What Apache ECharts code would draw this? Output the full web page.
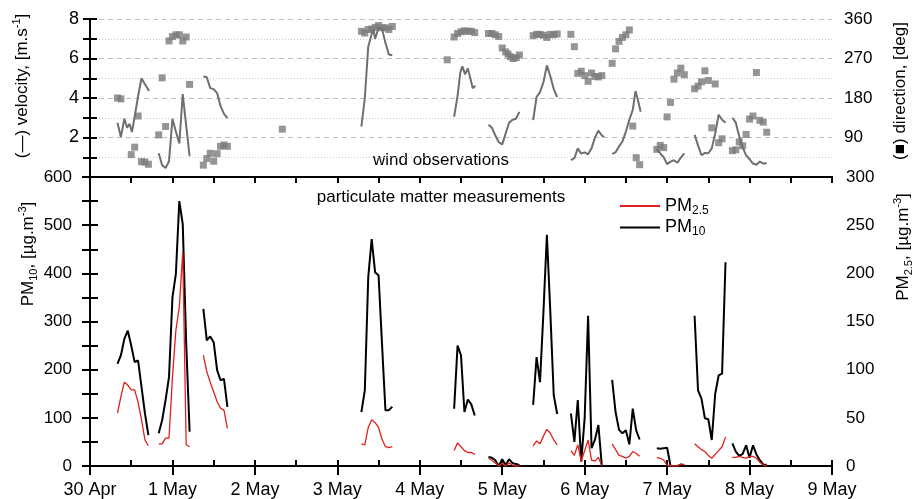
<!DOCTYPE html>
<html>
<head>
<meta charset="utf-8">
<script src="https://cdn.jsdelivr.net/npm/echarts@6/dist/echarts.min.js"></script>
<style>
  html, body { margin: 0; padding: 0; background: #fff; }
  #chart { width: 914px; height: 499px; }
</style>
</head>
<body>
<div id="chart"></div>
<script>
// x axis runs in hours from 30 Apr 00:00
const dayLabels = ['30 Apr', '1 May', '2 May', '3 May', '4 May', '5 May', '6 May', '7 May', '8 May', '9 May'];

// wind speed, one array per measuring run
const windHours = [
  [8, 9, 10, 10.8, 11.5, 12.2, 13, 14, 15, 16, 17.2],
  [20, 21, 22, 23, 24, 25, 26, 27, 28, 29],
  [33, 34, 35, 36, 37, 38, 39, 40],
  [79, 80, 81, 82, 82.5, 83, 84, 85, 86, 87, 88],
  [106, 107, 107.8, 108.4, 109.2, 110, 111, 111.4, 112.2],
  [116, 117, 118, 119, 120, 121, 122, 123, 124, 125],
  [129, 130, 131, 132, 133, 134, 135, 136],
  [140, 141, 142, 143, 144, 145, 146, 147, 148, 149, 149.7],
  [152, 153, 154, 155, 156, 157, 158, 158.8, 159.5, 160.3],
  [165, 166, 167, 168, 169, 170, 171, 172, 173],
  [176, 177, 178, 179, 180, 181, 182, 183, 184, 185],
  [187, 188, 189, 190, 191, 192, 193, 194, 195, 196, 197]
];
const windSpeed = [
  [2.75, 2.03, 2.95, 2.5, 2.7, 2.28, 3.05, 4.1, 5.0, 4.7, 4.36],
  [1.2, 0.6, 0.45, 0.8, 2.95, 2.3, 1.7, 4.2, 2.6, 1.05],
  [5.1, 5.05, 4.5, 4.45, 4.25, 3.6, 3.2, 2.98],
  [2.55, 4.0, 6.6, 7.25, 7.45, 7.0, 7.55, 7.5, 6.8, 6.2, 6.16],
  [3.05, 4.1, 5.3, 5.6, 5.2, 5.5, 4.8, 4.5, 4.62],
  [2.65, 2.5, 2.1, 1.76, 1.65, 2.2, 2.75, 2.9, 2.95, 3.3],
  [2.88, 4.05, 4.3, 4.8, 5.65, 5.1, 4.45, 4.05],
  [0.85, 0.95, 1.45, 1.18, 1.25, 1.15, 1.45, 2.0, 2.35, 2.1, 2.03],
  [1.17, 1.25, 1.55, 1.8, 2.3, 2.9, 3.4, 4.35, 3.9, 3.3],
  [1.4, 1.2, 1.0, 0.65, 0.78, 0.85, 0.72, 0.98, 1.2],
  [2.14, 1.6, 1.1, 1.22, 1.2, 1.45, 2.2, 3.15, 2.9, 2.75],
  [3.0, 2.75, 2.05, 1.5, 1.1, 0.9, 0.68, 0.62, 0.78, 0.68, 0.7]
];

// wind direction, degrees
const dirHours = [
  8, 9, 12, 13, 14, 15, 16, 17, 20, 21, 22, 23, 24, 25, 26, 27, 28, 29,
  33, 34, 35, 36, 37, 38, 39, 40, 56,
  79, 80, 81, 82, 83, 84, 85, 86, 87, 88,
  104, 106, 107, 108, 109, 110, 111, 112,
  116, 117, 118, 119, 120, 121, 121.7, 122.4, 123.2, 124.1, 125,
  129, 130, 131, 132, 133, 134, 135, 136,
  140, 141, 142, 143, 144, 145, 146, 147, 148, 149,
  152, 153, 154, 155, 156, 157, 158, 159, 160,
  165, 166, 167, 168, 169, 170, 171, 172, 173,
  176, 177, 178, 179, 180, 181, 182, 183, 184,
  187, 188, 189, 190, 191, 192, 193, 194, 195, 196, 197
];
const dirDeg = [
  180, 178, 51, 68, 139, 35, 34, 29, 96, 226, 115, 310, 320, 324, 324, 310, 319, 211,
  27, 42, 54, 36, 53, 70, 73, 70, 109,
  332, 328, 336, 337, 341, 345, 340, 340, 336, 343,
  267, 319, 327, 331, 333, 332, 332, 329,
  327, 327, 324, 320, 294, 285, 280, 274, 270, 272, 278,
  322, 325, 325, 323, 318, 325, 324, 326,
  325, 297, 236, 241, 231, 218, 237, 229, 228, 231,
  259, 292, 309, 318, 324, 335, 116, 44, 28,
  63, 72, 67, 137, 170, 223, 237, 248, 233,
  201, 207, 217, 242, 220, 112, 212, 78, 87,
  60, 62, 80, 71, 97, 132, 139, 238, 129, 125, 102
];

// particulate matter, hourly runs starting at these hours
const pmStart = [8, 20, 33, 79, 106, 116, 129, 140, 152, 165, 176, 187];
const pm10 = [
  [212, 230, 264, 281, 250, 216, 219, 164, 109, 64],
  [68, 95, 137, 185, 350, 399, 550, 502, 255, 71],
  [326, 261, 269, 257, 199, 178, 181, 123],
  [112, 157, 392, 471, 402, 396, 254, 116, 116, 123],
  [119, 250, 230, 112, 138, 128, 105],
  [19, 17, 12, 0, 14, 2, 14, 6, 4, 2],
  [127, 226, 174, 320, 480, 320, 147, 108],
  [109, 50, 137, 9, 100, 312, 37, 55, 85, 0],
  [179, 112, 75, 68, 74, 45, 119, 74, 55],
  [37, 36, 37, 38, 0, 0, 0, 3, 2],
  [312, 157, 140, 99, 97, 54, 150, 188, 192, 423],
  [47, 30, 21, 25, 43, 17, 43, 24, 12, 3, 2]
];
const pm25 = [
  [55, 72, 87, 84, 79, 79, 66, 48, 27, 21],
  [23, 23, 29, 29, 92, 141, 165, 222, 22, 20],
  [115, 98, 87, 77, 67, 60, 58, 39],
  [23, 22, 40, 48, 45, 40, 28, 20, 19, 20],
  [16, 24, 20, 16, 14, 14, 12],
  [8, 6, 3, 0, 3, 0, 3, 1, 0, 0],
  [21, 26, 23, 31, 38, 34, 27, 22],
  [16, 11, 22, 5, 16, 27, 6, 5, 9, 0],
  [23, 17, 11, 10, 8, 10, 15, 13, 10],
  [9, 8, 6, 1, 0, 0, 0, 2, 1],
  [23, 20, 17, 15, 11, 8, 12, 16, 20, 30],
  [9, 9, 10, 9, 8, 10, 10, 8, 4, 1, 0]
];

const FONT = 'Liberation Sans, Arial, sans-serif';

// join runs into one list, with an empty point between runs so the line breaks
function joinRuns(hoursList, valuesList) {
  const out = [];
  hoursList.forEach((hours, k) => {
    if (k > 0) out.push([hours[0] - 0.5, '-']);
    hours.forEach((h, i) => out.push([h, valuesList[k][i]]));
  });
  return out;
}
const pmHours = pmStart.map((s, k) => pm10[k].map((_, i) => s + i));

const tickLabel = { color: '#000', fontSize: 17, fontFamily: FONT };
const blackLine = { lineStyle: { color: '#000', width: 2 } };

function xBase(grid) {
  return { type: 'value', gridIndex: grid, min: 0, max: 216, interval: 24, splitLine: { show: false } };
}

const chart = echarts.init(document.getElementById('chart'));

const richName = {
  a: { fontSize: 17, fontFamily: FONT, color: '#000', lineHeight: 22, verticalAlign: 'middle' },
  g: { fontSize: 17, fontFamily: FONT, color: '#777', lineHeight: 22, verticalAlign: 'middle' },
  sub: { fontSize: 11, fontFamily: FONT, color: '#000', lineHeight: 11, verticalAlign: 'bottom' },
  sup: { fontSize: 11, fontFamily: FONT, color: '#000', lineHeight: 11, verticalAlign: 'top' }
};
function vText(x, y, text) {
  return {
    type: 'text', x: x, y: y, rotation: Math.PI / 2,
    style: { text: text, rich: richName, align: 'center', verticalAlign: 'middle' }
  };
}

const option = {
  animation: false,
  backgroundColor: '#fff',
  grid: [
    { left: 90, right: 82, top: 19, height: 158 },
    { left: 90, right: 82, top: 177, height: 289 }
  ],
  legend: {
    data: ['PM2.5', 'PM10'],
    orient: 'vertical',
    left: 615,
    top: 192,
    icon: 'rect',
    itemWidth: 40,
    itemHeight: 2,
    itemGap: 2,
    formatter: name => name === 'PM2.5' ? '{a|PM}{s|2.5}' : '{a|PM}{s|10}',
    textStyle: {
      rich: {
        a: { fontSize: 18, fontFamily: FONT, color: '#000', lineHeight: 21, verticalAlign: 'middle' },
        s: { fontSize: 12, fontFamily: FONT, color: '#000', lineHeight: 12, verticalAlign: 'bottom' }
      }
    }
  },
  xAxis: [
    // top panel, upper edge
    Object.assign(xBase(0), {
      position: 'top', interval: 12, axisLine: blackLine,
      axisTick: { inside: true, length: 6, lineStyle: { color: '#000', width: 2 } },
      axisLabel: { show: false }
    }),
    // top panel, lower edge
    Object.assign(xBase(0), {
      position: 'bottom', axisLine: blackLine, axisTick: { show: false }, axisLabel: { show: false }
    }),
    // bottom panel, date axis
    Object.assign(xBase(1), {
      position: 'bottom', axisLine: blackLine,
      axisTick: { inside: false, length: 9, lineStyle: { color: '#000', width: 2 } },
      axisLabel: Object.assign({ margin: 15, formatter: v => dayLabels[Math.round(v / 24)] }, tickLabel, { fontSize: 18 })
    }),
    // bottom panel, half-day ticks pointing in
    Object.assign(xBase(1), {
      position: 'bottom', interval: 12, axisLine: { show: false },
      axisTick: { inside: true, length: 6, lineStyle: { color: '#000', width: 2 } },
      axisLabel: { show: false }
    }),
    // bottom panel, upper edge
    Object.assign(xBase(1), {
      position: 'top', interval: 12, axisLine: blackLine,
      axisTick: { inside: true, length: 6, lineStyle: { color: '#000', width: 2 } },
      axisLabel: { show: false }
    })
  ],
  yAxis: [
    {
      type: 'value', gridIndex: 0, position: 'left', min: 0, max: 8, interval: 2,
      axisLine: Object.assign({ show: true }, blackLine),
      axisTick: { show: true, length: 7, lineStyle: { color: '#000', width: 2 } },
      minorTick: { show: true, splitNumber: 2, length: 7, lineStyle: { color: '#000', width: 2 } },
      splitLine: { show: true, lineStyle: { color: '#bdbdbd', type: [5, 4], width: 1 } },
      minorSplitLine: { show: true, lineStyle: { color: '#c8c8c8', type: [1, 2], width: 1 } },
      axisLabel: Object.assign({ margin: 11, formatter: v => v === 0 ? '' : String(v) }, tickLabel, { fontSize: 18 })
    },
    {
      type: 'value', gridIndex: 0, position: 'right', min: 0, max: 360, interval: 90,
      axisLine: Object.assign({ show: true }, blackLine),
      axisTick: { show: true, length: 7, lineStyle: { color: '#000', width: 2 } },
      minorTick: { show: true, splitNumber: 2, length: 7, lineStyle: { color: '#000', width: 2 } },
      splitLine: { show: false },
      axisLabel: Object.assign({ margin: 12, formatter: v => v === 0 ? '' : String(v) }, tickLabel)
    },
    {
      type: 'value', gridIndex: 1, position: 'left', min: 0, max: 600, interval: 100,
      axisLine: Object.assign({ show: true }, blackLine),
      axisTick: { show: true, length: 8, lineStyle: { color: '#000', width: 2 } },
      minorTick: { show: true, splitNumber: 2, length: 8, lineStyle: { color: '#000', width: 2 } },
      splitLine: { show: false },
      axisLabel: Object.assign({ margin: 18 }, tickLabel)
    },
    {
      type: 'value', gridIndex: 1, position: 'right', min: 0, max: 300, interval: 50,
      axisLine: Object.assign({ show: true }, blackLine),
      axisTick: { show: true, length: 8, lineStyle: { color: '#000', width: 2 } },
      minorTick: { show: true, splitNumber: 2, length: 8, lineStyle: { color: '#000', width: 2 } },
      splitLine: { show: false },
      axisLabel: Object.assign({ margin: 14 }, tickLabel)
    }
  ],
  series: [
    {
      name: 'velocity', type: 'line', xAxisIndex: 0, yAxisIndex: 0,
      showSymbol: false, symbol: 'none', connectNulls: false,
      lineStyle: { color: '#6f6f6f', width: 2 },
      data: joinRuns(windHours, windSpeed)
    },
    {
      name: 'direction', type: 'scatter', xAxisIndex: 0, yAxisIndex: 1,
      symbol: 'rect', symbolSize: 7,
      itemStyle: { color: '#7b7b7b' },
      data: dirHours.map((h, i) => [h, dirDeg[i]])
    },
    {
      name: 'PM10', type: 'line', xAxisIndex: 2, yAxisIndex: 2,
      showSymbol: false, symbol: 'none', connectNulls: false,
      lineStyle: { color: '#000', width: 2 }, itemStyle: { color: '#000' },
      data: joinRuns(pmHours, pm10)
    },
    {
      name: 'PM2.5', type: 'line', xAxisIndex: 2, yAxisIndex: 3,
      showSymbol: false, symbol: 'none', connectNulls: false,
      lineStyle: { color: '#e0201b', width: 1.3 }, itemStyle: { color: '#e0201b' },
      data: joinRuns(pmHours, pm25)
    }
  ],
  graphic: [
    vText(22, 86, '{g|(—)}{a| velocity, [m.s}{sup|-1}{a|]}'),
    vText(900, 91, '{a|(}{g|■}{a|) direction, [deg]}'),
    vText(28, 254, '{a|PM}{sub|10}{a|, [µg.m}{sup|-3}{a|]}'),
    vText(903, 247, '{a|PM}{sub|2.5}{a|, [µg.m}{sup|-3}{a|]}'),
    {
      type: 'text', x: 441, y: 160,
      style: { text: 'wind observations', fontSize: 17, fontFamily: FONT, fill: '#000', align: 'center', verticalAlign: 'middle' }
    },
    {
      type: 'text', x: 441, y: 197,
      style: { text: 'particulate matter measurements', fontSize: 17, fontFamily: FONT, fill: '#000', align: 'center', verticalAlign: 'middle' }
    }
  ]
};

chart.setOption(option);
</script>
</body>
</html>
